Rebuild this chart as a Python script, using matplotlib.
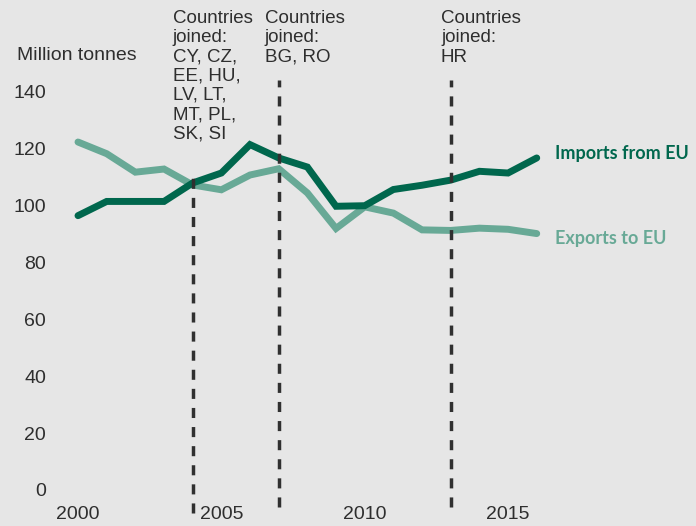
import matplotlib
matplotlib.use("Agg")
import matplotlib.pyplot as plt

plt.rcParams['font.family'] = ['Liberation Sans', 'DejaVu Sans']

# trade with the EU, million tonnes
years = list(range(2000, 2017))
imports_from_eu = [96.5, 101.5, 101.5, 101.5, 108.0, 111.5, 121.5, 116.8, 113.6, 99.8,
                   100.0, 105.7, 107.2, 109.0, 112.1, 111.5, 116.8]
exports_to_eu = [122.4, 118.3, 111.8, 112.9, 107.3, 105.6, 110.8, 113.0, 104.5, 92.0,
                 99.6, 97.4, 91.5, 91.3, 92.1, 91.7, 90.2]

# EU enlargement rounds
join_years = [2004, 2007, 2013]
join_labels = ['Countries\njoined:\nCY, CZ,\nEE, HU,\nLV, LT,\nMT, PL,\nSK, SI',
               'Countries\njoined:\nBG, RO',
               'Countries\njoined:\nHR']

y_ticks = [0, 20, 40, 60, 80, 100, 120, 140]
x_ticks = [2000, 2005, 2010, 2015]

bg = '#e6e6e6'
dark_green = '#00674d'
light_green = '#68a996'
text_col = '#2e2e2e'

fig = plt.figure(figsize=(6.96, 5.26), dpi=100, facecolor=bg)
ax = fig.add_axes([60 / 696, 31 / 526, 630 / 696, 490 / 526])
ax.set_facecolor(bg)
ax.set_xlim(1999.372, 2021.346)
ax.set_ylim(-1.76, 170.6)
for s in ax.spines.values():
    s.set_visible(False)

ax.plot(years, exports_to_eu, color=light_green, lw=5, solid_capstyle='round',
        solid_joinstyle='miter', zorder=3)
ax.plot(years, imports_from_eu, color=dark_green, lw=5, solid_capstyle='round',
        solid_joinstyle='miter', zorder=4)

# dashed markers for each accession, with the member list above
line_tops = [109.7, 144.2, 144.2]
line_bottoms = [-8.1, -6.0, -6.0]
text_x = [2003.31, 2006.52, 2012.66]
for yr, lab, top, bot, tx in zip(join_years, join_labels, line_tops, line_bottoms, text_x):
    ax.plot([yr, yr], [bot, top], color='#303030', lw=2.5, ls=(0, (2.9, 2.6)),
            clip_on=False, zorder=5)
    ax.text(tx, 168.8, lab, ha='left', va='top', fontsize=13.5, color=text_col,
            linespacing=1.17)

ax.text(2016.64, 118.5, 'Imports from EU', color=dark_green, fontsize=13,
        family='Lato', fontweight='bold', va='center', ha='left')
ax.text(2016.64, 88.6, 'Exports to EU', color=light_green, fontsize=13,
        family='Lato', fontweight='bold', va='center', ha='left')

ax.set_yticks(y_ticks)
ax.set_yticklabels([str(v) for v in y_ticks])
ax.set_xticks(x_ticks)
ax.set_xticklabels([str(v) for v in x_ticks])
ax.tick_params(axis='y', length=0, pad=10, labelsize=14, labelcolor=text_col)
ax.tick_params(axis='x', length=0, pad=8, labelsize=14, labelcolor=text_col)

fig.text(17 / 696, 1 - 55 / 526, 'Million tonnes', ha='left', va='center',
         fontsize=14, color=text_col)

fig.savefig('out.png', dpi=100, facecolor=bg)
